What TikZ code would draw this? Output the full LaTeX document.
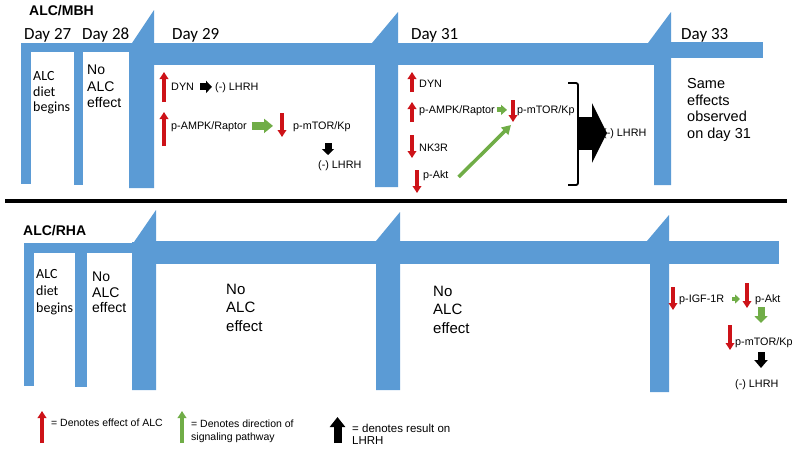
\documentclass[tikz,border=0pt]{standalone}
\usepackage{fontspec}
\setmainfont{Liberation Sans}
\newfontfamily\carl{Carlito}
\usetikzlibrary{arrows.meta,calc}
\definecolor{barblue}{RGB}{91,155,213}
\definecolor{arrred}{RGB}{205,18,24}
\definecolor{arrgreen}{RGB}{112,173,71}
\tikzset{
  bar/.style={fill=barblue, draw=none},
  blk/.style n args={4}{draw=#4, line width=#1, -{Triangle[width=#2,length=#3]}},
  hdr/.style={font=\bfseries\fontsize{14}{17}\selectfont, anchor=base west, inner sep=0pt},
  daylbl/.style={font=\carl\fontsize{17}{20}\selectfont, anchor=base west, inner sep=0pt},
  calt/.style={font=\carl\fontsize{14}{15.5}\selectfont, align=left, anchor=west, inner sep=0pt},
  bigt/.style={font=\fontsize{14}{16.5}\selectfont, align=left, anchor=west, inner sep=0pt},
  smt/.style={font=\fontsize{10.8}{13}\selectfont, anchor=base west, inner sep=0pt},
}
\begin{document}
\begin{tikzpicture}[x=1pt,y=-1pt]
\useasboundingbox (0,0) rectangle (800,453);

% ---------- top panel blue frame ----------
\fill[bar] (21,43) rectangle (132,52);
\fill[bar] (21,43) rectangle (31,184);
\fill[bar] (74,43) rectangle (83,185);
\fill[bar] (129,188) -- (129,43) -- (132,43) -- (154,10) -- (154,188) -- cycle;
\fill[bar] (154,43) rectangle (655,65);
\fill[bar] (372,43) -- (398,12) -- (398,187) -- (375,187) -- (375,43) -- cycle;
\fill[bar] (648,43) -- (671,12) -- (671,185) -- (654,185) -- (654,43) -- cycle;
\fill[bar] (671,42) rectangle (763,58);

% ---------- bottom panel blue frame ----------
\fill[bar] (24,243) rectangle (133,253);
\fill[bar] (24,243) rectangle (34,386);
\fill[bar] (75,243) rectangle (87,387);
\fill[bar] (132,390) -- (132,242) -- (134,242) -- (156,210) -- (156,390) -- cycle;
\fill[bar] (156,241) rectangle (779,264);
\fill[bar] (376,241) -- (400,212) -- (400,390) -- (376,390) -- cycle;
\fill[bar] (647,241) -- (669,215) -- (669,392) -- (650,392) -- (650,241) -- cycle;

% separator
\coordinate (sepL) at (5,201);
\coordinate (sepR) at (787,201);
\draw[line width=4.5pt] (sepL) -- (sepR);

% ---------- top texts ----------
\node[hdr] (mbh) at (29,15.5) {ALC/MBH};
\node[daylbl] (d27) at (24,39.5) {Day 27};
\node[daylbl] (d28) at (82,39.5) {Day 28};
\node[daylbl] (d29) at (172,39.5) {Day 29};
\node[daylbl] (d31) at (411,39.5) {Day 31};
\node[daylbl] (d33) at (681,39.5) {Day 33};

\node[calt] (t27) at (33,93) {ALC\\diet\\begins};
\node[bigt] (t28) at (87,86.5) {No\\ALC\\effect};

\node[smt] (dyn29) at (171,90.8) {DYN};
\node[smt] (lh29a) at (215,90.8) {(-) LHRH};
\node[smt] (ampk29) at (171,129.8) {p-AMPK/Raptor};
\node[smt] (mtor29) at (293,129.8) {p-mTOR/Kp};
\node[smt] (lh29b) at (318,168.8) {(-) LHRH};

\node[smt] (dyn31) at (419,87.8) {DYN};
\node[smt] (ampk31) at (419,113.8) {p-AMPK/Raptor};
\node[smt] (mtor31) at (517,113.8) {p-mTOR/Kp};
\node[smt] (nk31) at (419,151.8) {NK3R};
\node[smt] (akt31) at (423,178.8) {p-Akt};
\node[smt] (lh31) at (603,136.8) {(-) LHRH};
\node[bigt, font=\fontsize{14.5}{16.4}\selectfont] (same) at (687,110) {Same\\effects\\observed\\on day 31};

% ---------- bottom texts ----------
\node[hdr] (rha) at (23,235.5) {ALC/RHA};
\node[calt, font=\carl\fontsize{14}{17}\selectfont] (b27) at (36,292.4) {ALC\\diet\\begins};
\node[bigt, font=\fontsize{14}{15.5}\selectfont] (b28) at (92,292.5) {No\\ALC\\effect};
\node[bigt, font=\fontsize{15}{18.5}\selectfont] (b29) at (226,307.5) {No\\ALC\\effect};
\node[bigt, font=\fontsize{15}{18.5}\selectfont] (b31) at (433,309.5) {No\\ALC\\effect};

\node[smt] (igf) at (679,302.8) {p-IGF-1R};
\node[smt] (aktb) at (755,302.8) {p-Akt};
\node[smt] (mtorb) at (735,345.8) {p-mTOR/Kp};
\node[smt] (lhb) at (735,387.8) {(-) LHRH};

% ---------- legend ----------
\node[smt, font=\fontsize{10.5}{13}\selectfont] (leg1) at (51,426.8) {= Denotes effect of ALC};
\node[bigt, font=\fontsize{10.5}{13}\selectfont] (leg2) at (191,431.6) {= Denotes direction of\\signaling pathway};
\node[bigt, font=\fontsize{11.5}{12.5}\selectfont] (leg3) at (352,434.3) {= denotes result on\\LHRH};

% ---------- red markers ----------
\draw[blk={4pt}{8.5pt}{7pt}{arrred}] (164,102) -- (164,72);
\draw[blk={4pt}{8.5pt}{7pt}{arrred}] (164,146) -- (164,112);
\draw[blk={4pt}{8.5pt}{7pt}{arrred}] (282,113) -- (282,137);

\draw[blk={4pt}{8.5pt}{7pt}{arrred}] (412,92) -- (412,72);
\draw[blk={4pt}{8.5pt}{7pt}{arrred}] (412,122) -- (412,102);
\draw[blk={4pt}{8.5pt}{7pt}{arrred}] (513,100) -- (513,122);
\draw[blk={4pt}{8.5pt}{7pt}{arrred}] (412,135) -- (412,158);
\draw[blk={4pt}{8.5pt}{7pt}{arrred}] (417,170) -- (417,193);

\draw[blk={4pt}{8.5pt}{7pt}{arrred}] (673,287) -- (673,310);
\draw[blk={4pt}{8.5pt}{7pt}{arrred}] (747,283) -- (747,308);
\draw[blk={4pt}{8.5pt}{7pt}{arrred}] (730,325) -- (730,350);

\draw[blk={4pt}{8.5pt}{7pt}{arrred}] (42,443) -- (42,411);

% ---------- green pathway arrows ----------
\draw[blk={8pt}{14pt}{9pt}{arrgreen}] ($(ampk29.base east)+(4.5,-3.9)$) -- ($(mtor29.base west)+(-20,-3.9)$);
\draw[blk={5pt}{10pt}{6pt}{arrgreen}] ($(ampk31.base east)+(1.5,-3.9)$) -- ($(mtor31.base west)+(-10,-3.9)$);
\draw[blk={3.5pt}{10pt}{9pt}{arrgreen}] ($(akt31.base east)+(10,-1.8)$) -- ($(mtor31.base west)+(-6,11.2)$);
\draw[blk={4.5pt}{9pt}{5pt}{arrgreen}] ($(igf.base east)+(8,-3.8)$) -- ($(aktb.base west)+(-15,-3.8)$);
\draw[blk={7pt}{13pt}{7pt}{arrgreen}] ($(aktb.base west)+(6,4.2)$) -- ($(mtorb.base west)+(26,-22.8)$);
\draw[blk={4pt}{8.5pt}{7pt}{arrgreen}] (182,443) -- (182,411);

% ---------- black result arrows ----------
\draw[blk={7pt}{12pt}{6pt}{black}] ($(dyn29.base east)+(6.2,-3.9)$) -- ($(lh29a.base west)+(-3,-3.9)$);
\draw[blk={7pt}{12pt}{6pt}{black}] ($(mtor29.base west)+(35,13.2)$) -- ($(lh29b.base west)+(10,-13.8)$);
\draw[blk={7pt}{13pt}{8pt}{black}] ($(mtorb.base west)+(26,6.2)$) -- ($(lhb.base west)+(26,-19.8)$);
\draw[blk={8pt}{15pt}{10pt}{black}] (337.5,443) -- (337.5,417);

% bracket and big arrow
\coordinate (brkTop) at (568,83);
\coordinate (brkBot) at (568,185);
\coordinate (brkMid) at (579,133);
\draw[line width=1.8pt, rounded corners=2pt] (brkTop) -- (578,83) -- (578,185) -- (brkBot);
\draw[blk={33pt}{59pt}{15pt}{black}] (brkMid) -- ($(lh31.base west)+(4,-3.8)$);
\end{tikzpicture}
\end{document}
